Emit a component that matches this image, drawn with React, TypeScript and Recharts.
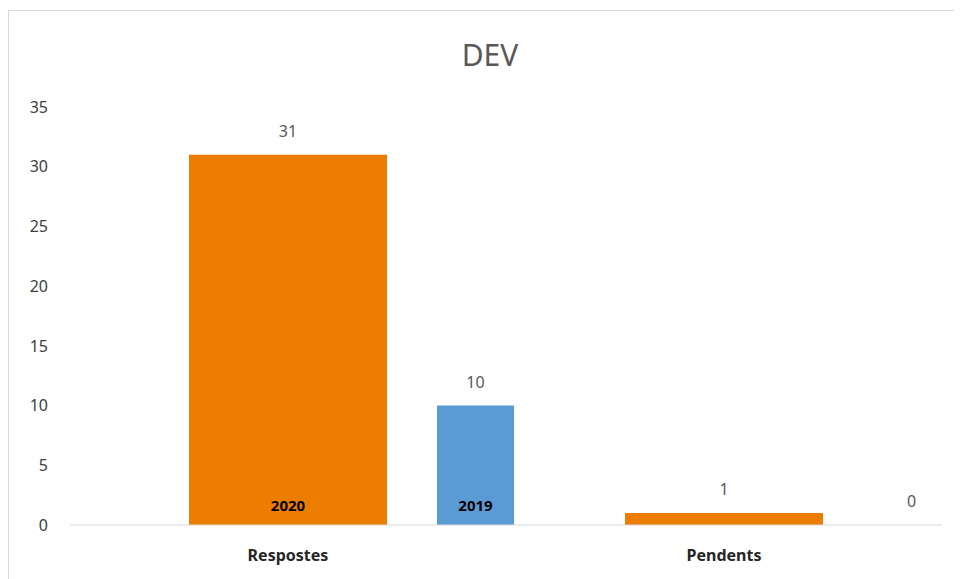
import React from 'react';
import { BarChart, Bar, XAxis, YAxis, LabelList } from 'recharts';

const categories = ['Respostes', 'Pendents'];
const values2020 = [31, 1];
const values2019 = [10, 0];
const inside2020 = ['2020', ''];
const inside2019 = ['2019', ''];
const yTicks = [0, 5, 10, 15, 20, 25, 30, 35];

const FONT = '"Noto Sans", "Open Sans", sans-serif';

const data = categories.map((name, i) => ({
  name,
  v2020: values2020[i],
  v2019: values2019[i],
  in2020: inside2020[i],
  in2019: inside2019[i],
}));

const App: React.FC = () => {
  return (
    <div style={{ position: 'relative', width: 954, height: 571, overflow: 'hidden', fontFamily: FONT }}>
      <div
        style={{
          position: 'absolute', left: 0, top: 2, width: 964, height: 640,
          border: '1px solid #d9d9d9', boxSizing: 'border-box', background: '#fff',
        }}
      />
      <div
        style={{
          position: 'absolute', left: 0, top: 30, width: 964, textAlign: 'center',
          fontSize: 30, lineHeight: '34px', color: '#595959',
        }}
      >
        DEV
      </div>
      <div style={{ position: 'absolute', left: 0, top: 0 }}>
        <BarChart
          width={954}
          height={571}
          data={data}
          margin={{ top: 99, right: 20, bottom: 24, left: 2 }}
        >
          <XAxis
            xAxisId="main"
            dataKey="name"
            axisLine={{ stroke: '#d9d9d9' }}
            tickLine={false}
            tickMargin={19}
            tick={{ fontSize: 16, fontWeight: 700, fill: '#262626', fontFamily: FONT }}
          />
          <XAxis xAxisId="shift" dataKey="name" hide padding={{ left: 187, right: -187 }} />
          <YAxis
            domain={[0, 35]}
            ticks={yTicks}
            axisLine={false}
            tickLine={false}
            tickMargin={16}
            tick={{ fontSize: 16, fill: '#404040', fontFamily: FONT }}
          />
          <Bar dataKey="v2020" xAxisId="main" fill="#ED7D00" barSize={198} isAnimationActive={false}>
            <LabelList dataKey="v2020" position="top" offset={18} fill="#595959" fontSize={16} fontFamily={FONT} />
            <LabelList dataKey="in2020" position="insideBottom" offset={14} fill="#000" fontSize={15} fontWeight={700} fontFamily={FONT} />
          </Bar>
          <Bar dataKey="v2019" xAxisId="shift" fill="#5B9BD5" barSize={77} minPointSize={0.01} isAnimationActive={false}>
            <LabelList dataKey="v2019" position="top" offset={18} fill="#595959" fontSize={16} fontFamily={FONT} />
            <LabelList dataKey="in2019" position="insideBottom" offset={14} fill="#000" fontSize={15} fontWeight={700} fontFamily={FONT} />
          </Bar>
        </BarChart>
      </div>
    </div>
  );
};

export default App;
